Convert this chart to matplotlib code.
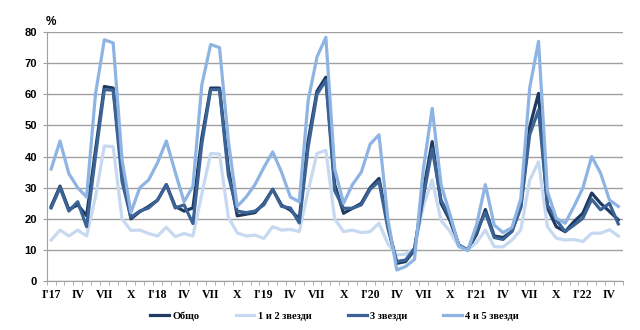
import numpy as np
import matplotlib.pyplot as plt

# monthly occupancy, Jan 2017 - May 2022 (%)
tick_labels = ["I'17", "IV", "VII", "X",
               "I'18", "IV", "VII", "X",
               "I'19", "IV", "VII", "X",
               "I'20", "IV", "VII", "X",
               "I'21", "IV", "VII", "X",
               "I'22", "IV"]

total = [24, 30.5, 23, 24.5, 21, 42, 62.5, 62, 35, 20, 22.3, 24,
         26, 31, 24, 22.5, 23.5, 46, 62, 62, 36, 21, 21.5, 22,
         25, 29.5, 24.4, 22.8, 20, 45, 61, 65.5, 31, 21.8, 23.4, 25,
         30, 33, 18, 5.7, 6.3, 10, 29, 44.8, 25, 19.5, 11.6, 10,
         15, 23, 14.5, 14, 16, 24, 49.5, 60.3, 23.5, 17.5, 15.9, 19.1,
         21.8, 28.3, 25, 22.4, 19.7]

stars_1_2 = [13.2, 16.4, 14.5, 16.4, 14.5, 27, 43.4, 43.2, 20, 16.3, 16.4, 15.3,
             14.5, 17.3, 14.3, 15.3, 14.5, 28, 41, 40.8, 20.5, 15.5, 14.5, 14.8,
             13.7, 17.5, 16.4, 16.6, 15.9, 29, 41, 42, 20, 15.9, 16.4, 15.6,
             15.9, 18.6, 12, 8.4, 8.7, 10.5, 24, 32.5, 19.5, 16, 11, 10,
             12.4, 16.4, 11.1, 11, 13.2, 16.5, 32.4, 38.3, 17.5, 13.8, 13.2, 13.4,
             12.7, 15.4, 15.4, 16.5, 14.5]

stars_3 = [23.5, 30, 22.5, 25.5, 17.5, 40, 61.5, 61.3, 32, 20.5, 22.5, 23.5,
           26, 31, 23.5, 24.5, 18.5, 44, 61.5, 61.5, 34, 22.5, 22, 22.5,
           24.5, 29.5, 24, 23.5, 18.7, 43, 60, 64.5, 29, 23.4, 23.4, 24.5,
           29.5, 32, 17, 6.3, 6.8, 10.5, 27, 42.5, 26, 20.5, 11.6, 10,
           16, 22, 14, 13.4, 16, 23.6, 47, 55, 24.5, 19.7, 15.9, 18,
           20.2, 26.3, 22.9, 25, 18.4]

stars_4_5 = [36, 45, 34.5, 30, 27, 60, 77.5, 76.5, 39, 22, 30, 32.5,
             38, 45, 35, 25.5, 30.5, 63, 76, 75, 45, 24, 27, 31,
             36.5, 41.5, 35, 27, 25.5, 58, 72, 78.3, 36, 25, 31, 35,
             44, 47, 20, 3.6, 4.7, 7, 36, 55.5, 31, 21.5, 11.3, 9.8,
             18, 31, 18, 15.6, 17.2, 26.5, 62, 77, 28.8, 20.2, 18.6, 24,
             29.9, 40, 34.7, 26.1, 24]

series = [("Общо", total, "#1f3a60"),
          ("1 и 2 звезди", stars_1_2, "#c6d9f1"),
          ("3 звезди", stars_3, "#3b6396"),
          ("4 и 5 звезди", stars_4_5, "#8db4e2")]

fig = plt.figure(figsize=(6.4, 3.3), dpi=100)
ax = fig.add_axes([0.073, 0.148, 0.9, 0.755])

x = np.arange(len(total))
for name, vals, color in series:
    ax.plot(x, vals, color=color, lw=2.3, label=name)

ax.set_ylim(0, 80)
ax.set_xlim(-0.5, len(total) - 0.5)
ax.set_yticks(range(0, 81, 10))
ax.yaxis.grid(True, color="#a0a0a0", lw=1)
ax.set_axisbelow(True)
for side in ["top", "right"]:
    ax.spines[side].set_visible(False)
for side in ["left", "bottom"]:
    ax.spines[side].set_color("#a0a0a0")

ax.set_xticks(np.arange(0, len(total), 3))
ax.set_xticklabels(tick_labels, fontfamily="Liberation Serif",
                   fontweight="bold", fontsize=8.5)
ax.set_xticks(np.arange(-0.5, len(total), 1), minor=True)
ax.tick_params(axis="x", which="major", length=0, pad=6)
ax.tick_params(axis="x", which="minor", length=3, color="#a0a0a0")
ax.tick_params(axis="y", length=3, color="#a0a0a0", pad=4)
for lbl in ax.get_yticklabels():
    lbl.set_fontfamily("Liberation Sans")
    lbl.set_fontweight("bold")
    lbl.set_fontsize(8)

fig.text(0.072, 0.925, "%", fontfamily="Liberation Sans",
         fontweight="bold", fontsize=8.5)

fig.legend(loc="lower center", bbox_to_anchor=(0.523, 0.0), ncol=4,
           frameon=False, handlelength=1.8, handletextpad=0.3,
           columnspacing=3.5,
           prop={"family": "Liberation Serif", "weight": "bold", "size": 7.5})

fig.savefig("out.png")
